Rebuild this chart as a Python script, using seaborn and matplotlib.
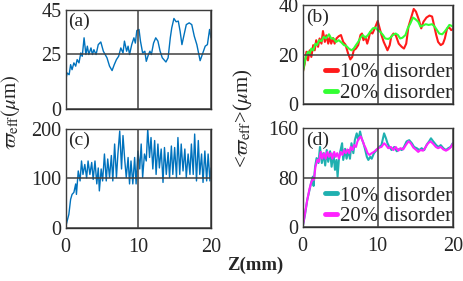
import numpy as np
import pandas as pd
import matplotlib
matplotlib.use("Agg")
import matplotlib.pyplot as plt
import seaborn as sns

# ---------------- data ----------------
za = [0, 0.23, 0.5, 0.7, 0.9, 1.15, 1.4, 1.6, 1.85, 2.1, 2.3, 2.55, 2.8, 3.0, 3.2, 3.5, 3.7,
      3.9, 4.2, 4.5, 4.85, 5.2, 5.7, 6.05, 6.4, 6.7, 7.0, 7.3, 7.6, 7.9, 8.1, 8.4, 8.6, 8.8,
      9.1, 9.4, 9.6, 9.8, 10.1, 10.3, 10.6, 10.9, 11.1, 11.4, 11.6, 11.8, 12.1, 12.4, 12.7,
      13.0, 13.3, 13.8, 14.1, 14.4, 14.6, 14.9, 15.2, 15.5, 15.75, 16.0, 16.3, 16.6, 17.0,
      17.35, 17.7, 18.05, 18.5, 18.8, 19.2, 19.5, 19.8, 20.0]
wa = [12.9, 16.4, 15.6, 20.2, 17.9, 21.0, 19.5, 22.5, 21.0, 25.5, 24.0, 32.4, 24.8, 28.6, 24.8,
      27.8, 24.8, 27.0, 24.8, 29.3, 30.5, 26.3, 23.3, 19.5, 17.5, 20.2, 22.5, 24.0, 27.8, 25.5,
      30.9, 26.3, 28.6, 24.8, 29.3, 32.4, 30.0, 35.7, 36.2, 30.9, 25.5, 26.3, 21.7, 24.8, 26.3,
      24.8, 30.0, 32.4, 30.9, 26.3, 23.3, 21.4, 23.3, 32.4, 36.9, 41.2, 39.7, 40.0, 35.4, 29.3,
      33.9, 38.4, 39.2, 38.4, 33.1, 29.3, 22.0, 24.8, 28.6, 29.3, 36.2, 32.4]

zc = [0, 0.23, 0.46, 0.7, 0.9, 1.15, 1.4, 1.5, 1.75, 2.0, 2.2, 2.4, 2.65, 2.9, 3.1, 3.35, 3.6,
      3.8, 4.05, 4.3, 4.5, 4.65, 4.9, 5.1, 5.35, 5.6, 5.8, 6.05, 6.3, 6.5, 6.75, 7.0, 7.2, 7.45,
      7.7, 7.9, 8.15, 8.35, 8.6, 8.8, 9.0, 9.25, 9.5, 9.7, 9.95, 10.2, 10.4, 10.6, 10.85, 11.1,
      11.3, 11.55, 11.75, 12.0, 12.25, 12.45, 12.7, 12.9, 13.15, 13.4, 13.6, 13.85, 14.1, 14.3,
      14.55, 14.75, 15.0, 15.25, 15.45, 15.7, 15.9, 16.15, 16.4, 16.6, 16.85, 17.1, 17.3, 17.55,
      17.75, 18.0, 18.25, 18.45, 18.7, 18.9, 19.15, 19.4, 19.6, 19.85, 20.0]
wc = [1, 15, 28, 58, 68, 72, 89, 68, 115, 95, 135, 108, 128, 101, 135, 108, 132, 98, 135, 89,
      121, 75, 119, 95, 149, 95, 139, 102, 146, 95, 169, 102, 149, 195, 119, 186, 135, 102, 142,
      89, 135, 89, 142, 89, 155, 119, 169, 102, 149, 135, 199, 142, 182, 119, 176, 108, 169, 121,
      159, 92, 162, 108, 152, 102, 165, 108, 162, 102, 182, 108, 169, 115, 159, 102, 149, 108,
      169, 108, 189, 95, 176, 108, 149, 92, 155, 95, 149, 95, 121]

zb10 = [0, 0.27, 0.5, 0.7, 0.93, 1.15, 1.4, 1.6, 1.8, 2.05, 2.25, 2.5, 2.7, 2.95, 3.15, 3.4, 3.6,
        3.8, 4.05, 4.25, 4.5, 4.8, 5.1, 5.4, 5.7, 6.05, 6.35, 6.6, 6.8, 7.1, 7.4, 7.7, 7.9, 8.1,
        8.35, 8.6, 8.8, 9.0, 9.3, 9.7, 10.0, 10.2, 10.5, 10.8, 11.1, 11.3, 11.6, 11.8, 12.1,
        12.4, 12.8, 13.2, 13.5, 13.8, 14.1, 14.5, 14.8, 15.1, 15.5, 15.8, 16.1, 16.5, 16.9,
        17.25, 17.5, 17.8, 18.05, 18.4, 18.7, 18.95, 19.25, 19.55, 19.8, 20.0]
wb10 = [12.7, 16.4, 21.2, 17.7, 21.8, 19.1, 23.9, 21.8, 25.9, 23.2, 26.6, 24.5, 29.6, 25.2, 27.9,
        24.5, 27.3, 24.5, 26.8, 24.5, 26.6, 27.5, 28.0, 25.2, 24.1, 20.5, 18.1, 19.1, 21.8, 22.5,
        23.9, 28.0, 28.6, 25.9, 27.3, 24.5, 26.6, 29.3, 28.6, 31.4, 33.7, 31.4, 28.0, 25.2, 23.2,
        21.8, 23.9, 27.3, 28.6, 28.0, 24.5, 23.2, 22.5, 24.5, 31.4, 35.5, 38.6, 37.5, 34.1, 30.7,
        33.4, 35.1, 35.9, 35.5, 32.1, 28.0, 25.2, 23.9, 24.5, 26.6, 30.7, 31.0, 30.0, 30.4]

zb20 = [0, 0.27, 0.5, 0.7, 0.93, 1.15, 1.4, 1.7, 1.9, 2.2, 2.5, 2.8, 3.1, 3.5, 3.8, 4.1, 4.45,
        4.8, 5.15, 5.5, 5.8, 6.15, 6.5, 6.8, 7.1, 7.4, 7.7, 8.0, 8.35, 8.7, 9.0, 9.35, 9.7, 10.0,
        10.35, 10.7, 11.0, 11.4, 11.7, 12.0, 12.4, 12.7, 13.0, 13.3, 13.7, 14.0, 14.35, 14.7,
        15.0, 15.4, 15.7, 16.0, 16.4, 16.8, 17.25, 17.6, 17.9, 18.2, 18.6, 18.9, 19.25, 19.55,
        19.8, 20.0]
wb20 = [12.7, 17.1, 19.8, 21.2, 20.5, 22.5, 21.8, 24.5, 23.9, 25.9, 25.5, 27.3, 26.6, 28.3, 26.6,
        26.6, 25.2, 25.9, 25.0, 23.9, 23.6, 22.5, 21.8, 22.5, 23.9, 25.2, 26.9, 28.0, 26.9, 28.0,
        29.3, 30.7, 31.0, 30.0, 29.3, 28.0, 26.6, 26.4, 26.9, 28.0, 28.6, 28.0, 26.6, 26.9, 28.0,
        30.7, 32.7, 35.1, 34.5, 33.4, 31.4, 31.8, 32.4, 32.1, 32.4, 31.4, 30.0, 28.6, 28.3, 29.3,
        30.7, 32.1, 31.8, 31.4]

zd10 = [0, 0.3, 0.6, 0.9, 1.1, 1.35, 1.45, 1.65, 1.85, 2.1, 2.3, 2.55, 2.75, 3.0, 3.2, 3.4, 3.65,
        3.85, 4.1, 4.3, 4.5, 4.65, 4.85, 5.05, 5.25, 5.4, 5.65, 5.85, 6.1, 6.3, 6.5, 6.75, 6.95,
        7.2, 7.4, 7.65, 7.85, 8.1, 8.3, 8.55, 8.75, 9.0, 9.2, 9.5, 9.85, 10.2, 10.5, 10.85, 11.1,
        11.3, 11.55, 11.85, 12.2, 12.55, 12.9, 13.2, 13.5, 13.85, 14.2, 14.55, 14.85, 15.2, 15.55,
        15.85, 16.2, 16.5, 16.85, 17.1, 17.4, 17.8, 18.1, 18.4, 18.75, 19.1, 19.4, 19.7, 20.0]
wd10 = [1, 20, 44, 60, 71, 82, 67, 98, 112, 104, 130, 104, 120, 100, 125, 106, 123, 98, 120, 93,
        109, 82, 114, 125, 136, 109, 127, 111, 125, 111, 136, 120, 141, 152, 141, 155, 144, 136,
        127, 114, 109, 114, 111, 120, 125, 130, 133, 152, 144, 136, 130, 125, 130, 123, 127, 125,
        130, 139, 141, 136, 130, 128, 125, 128, 125, 133, 139, 144, 139, 133, 130, 133, 128, 125,
        128, 130, 136]

zd20 = [0, 0.3, 0.6, 0.9, 1.1, 1.35, 1.5, 1.7, 1.95, 2.15, 2.4, 2.6, 2.85, 3.05, 3.3, 3.5, 3.75,
        3.95, 4.2, 4.4, 4.6, 4.85, 5.05, 5.3, 5.5, 5.75, 5.95, 6.2, 6.4, 6.65, 6.85, 7.1, 7.3, 7.5,
        7.75, 7.95, 8.2, 8.4, 8.65, 8.9, 9.2, 9.5, 9.85, 10.2, 10.5, 10.85, 11.1, 11.4, 11.75,
        12.1, 12.4, 12.75, 13.05, 13.4, 13.75, 14.1, 14.4, 14.75, 15.05, 15.4, 15.7, 16.05, 16.4,
        16.7, 17.05, 17.4, 17.75, 18.05, 18.4, 18.75, 19.1, 19.4, 19.7, 20.0]
wd20 = [1, 22, 44, 62, 71, 79, 77, 98, 109, 106, 122, 111, 120, 111, 122, 114, 120, 111, 122, 114,
        120, 111, 122, 117, 125, 120, 126, 120, 130, 125, 133, 130, 139, 144, 147, 141, 133, 128,
        120, 117, 120, 122, 126, 129, 130, 136, 133, 128, 130, 125, 130, 124, 128, 126, 133, 139,
        136, 129, 126, 122, 125, 124, 130, 136, 139, 135, 130, 128, 130, 126, 124, 126, 129, 135]

x_ticks = [0, 10, 20]
yticks_a = [0, 25, 45]
yticks_b = [0, 20, 40]
yticks_c = [0, 100, 200]
yticks_d = [0, 80, 160]
legend_labels = ["10% disorder", "20% disorder"]
panel_labels = ["(a)", "(b)", "(c)", "(d)"]

# ---------------- style ----------------
sns.set_style("white")
plt.rcParams['font.family'] = ['Liberation Serif', 'DejaVu Serif']
plt.rcParams['mathtext.fontset'] = 'stix'

fig = plt.figure(figsize=(4.63, 2.81), dpi=100)
axa = fig.add_axes([0.1415, 0.612, 0.3143, 0.352])
axc = fig.add_axes([0.1415, 0.1875, 0.3143, 0.355])
axb = fig.add_axes([0.6538, 0.630, 0.324, 0.3505])
axd = fig.add_axes([0.6538, 0.191, 0.324, 0.352])

blue = "#0072BD"
dfa = pd.DataFrame({"z": za, "w": wa})
dfc = pd.DataFrame({"z": zc, "w": wc})
sns.lineplot(data=dfa, x="z", y="w", ax=axa, color=blue, lw=1.0, sort=False, estimator=None)
sns.lineplot(data=dfc, x="z", y="w", ax=axc, color=blue, lw=1.0, sort=False, estimator=None)

dfb = pd.concat([pd.DataFrame({"z": zb10, "w": wb10, "s": legend_labels[0]}),
                 pd.DataFrame({"z": zb20, "w": wb20, "s": legend_labels[1]})])
dfd = pd.concat([pd.DataFrame({"z": zd10, "w": wd10, "s": legend_labels[0]}),
                 pd.DataFrame({"z": zd20, "w": wd20, "s": legend_labels[1]})])
sns.lineplot(data=dfb, x="z", y="w", hue="s", ax=axb, palette=["#ff1a1a", "#33ff33"],
             lw=1.5, sort=False, estimator=None)
sns.lineplot(data=dfd, x="z", y="w", hue="s", ax=axd, palette=["#1fb0b0", "#ff22ff"],
             lw=1.5, sort=False, estimator=None)

for ax, yt, lab in [(axa, yticks_a, panel_labels[0]), (axb, yticks_b, panel_labels[1]),
                    (axc, yticks_c, panel_labels[2]), (axd, yticks_d, panel_labels[3])]:
    ax.set_xlim(0, 20)
    ax.set_ylim(yt[0], yt[-1])
    ax.set_xticks(x_ticks)
    ax.set_yticks(yt)
    ax.set_xlabel("")
    ax.set_ylabel("")
    ax.grid(True, color="#404040", lw=1.1)
    ax.set_axisbelow(False)
    ax.tick_params(axis="y", length=0, labelsize=14.5, pad=3)
    ax.tick_params(axis="x", length=0, labelsize=14.5, pad=7)
    for sp in ax.spines.values():
        sp.set_color("#303030")
        sp.set_linewidth(1.0)
    ax.text(0.02, 0.97, lab, transform=ax.transAxes, ha="left", va="top", fontsize=14)

axa.set_xticklabels([])
axb.set_xticklabels([])

for ax in (axb, axd):
    leg = ax.legend(loc="lower right", frameon=False, fontsize=15, handlelength=0.6,
                    handletextpad=0.1, borderpad=0.0, borderaxespad=0.05, labelspacing=0.05)
    for h in leg.get_lines():
        h.set_linewidth(3.5)

fig.text(0.022, 0.6, r'$\varpi_{\rm eff}(\mu$m$)$', rotation=90, ha="center", va="center",
         fontsize=15)
fig.text(0.525, 0.58, r'<$\varpi_{\rm eff}$>($\mu$m)', rotation=90, ha="center",
         va="center", fontsize=15)
fig.text(0.551, 0.057, "Z(mm)", ha="center", va="center", fontsize=13.5, fontweight="bold")

fig.savefig("out.png", dpi=100)
